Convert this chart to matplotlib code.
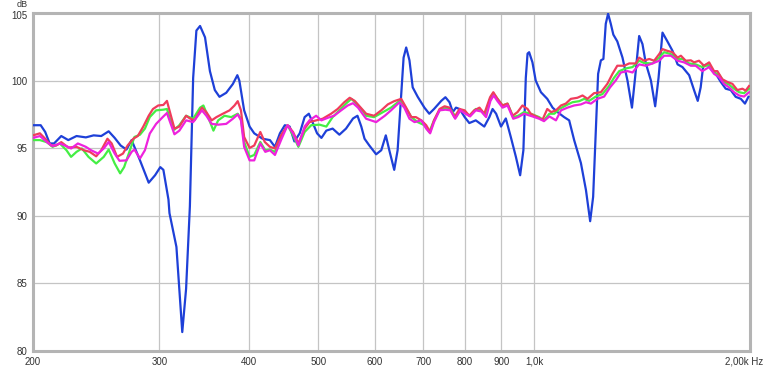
import numpy as np
import matplotlib.pyplot as plt
from matplotlib.transforms import ScaledTranslation

plt.rcParams['font.family'] = ['Liberation Sans', 'DejaVu Sans']

# frequency response traces (Hz, dB)
blue_f = [200, 205, 208, 211, 214, 219, 224, 230, 237, 243, 249, 255, 260, 265, 270, 274.5,
          282, 290, 296, 301, 304, 309, 310, 317, 323, 327, 331, 334.5, 338, 342, 347.5, 353,
          358.6, 364, 372, 380, 385.5, 388, 394, 401, 407, 418, 428, 435, 442, 449, 456, 463,
          471, 478.5, 485, 491, 498, 505, 513, 523.5, 535, 546.5, 559, 567, 574, 580, 589,
          602, 612, 621, 628, 638, 645, 652.5, 657.5, 663, 670, 677, 688, 703, 714, 725, 742,
          752, 762, 770, 778, 787, 800, 812, 829, 852, 866, 875, 885, 899, 913, 928, 943, 956,
          966, 973.5, 979, 984, 994.5, 1005, 1022, 1043, 1061, 1078, 1101, 1119, 1137, 1162,
          1181, 1197, 1208.5, 1219, 1228, 1239, 1249, 1258.5, 1268, 1279, 1289.5, 1306, 1328,
          1349.5, 1369, 1383, 1401, 1416, 1431, 1455, 1475, 1491, 1510, 1534, 1559.5, 1585,
          1610, 1645, 1671, 1691, 1707, 1721, 1744, 1764, 1792, 1821, 1850, 1880, 1910, 1942,
          1968, 1990]
blue_db = [96.7, 96.7, 96.2, 95.35, 95.35, 95.9, 95.6, 95.9, 95.8, 95.95, 95.9, 96.25, 95.76,
           95.2, 94.9, 95.6, 94.1, 92.45, 93.0, 93.6, 93.4, 91.2, 90.2, 87.7, 81.4, 84.6, 90.7,
           100.2, 103.7, 104.04, 103.2, 100.7, 99.3, 98.8, 99.1, 99.75, 100.4, 100.0, 97.8,
           96.6, 96.1, 95.7, 95.6, 95.1, 96.1, 96.7, 96.6, 95.5, 96.1, 97.3, 97.55, 96.9, 96.1,
           95.76, 96.3, 96.45, 96.0, 96.45, 97.2, 97.4, 96.6, 95.7, 95.2, 94.55, 94.85, 95.95,
           94.85, 93.4, 94.85, 99.0, 101.7, 102.45, 101.5, 99.5, 98.8, 98.0, 97.55, 97.9, 98.5,
           98.77, 98.4, 97.67, 98.0, 97.9, 97.3, 96.86, 97.06, 96.6, 97.3, 97.9, 97.55, 96.6,
           97.2, 95.8, 94.36, 93.0, 94.85, 100.2, 102.0, 102.1, 101.35, 100.0, 99.14, 98.65,
           98.0, 97.67, 97.3, 97.06, 95.6, 93.9, 91.9, 89.6, 91.4, 96.3, 100.5, 101.5, 101.6,
           104.2, 104.95, 104.2, 103.4, 102.9, 101.7, 100.0, 98.0, 100.25, 103.3, 102.7, 101.3,
           100.0, 98.1, 100.2, 103.55, 102.9, 102.2, 101.2, 101.0, 100.4, 99.3, 98.5, 99.5,
           101.1, 101.2, 100.85, 100.5, 99.9, 99.4, 99.3, 98.8, 98.65, 98.3, 98.8]

green_f = [200, 204.5, 209, 213, 218, 222.7, 226, 230, 234, 239, 245, 251, 255, 260, 264.6,
           268, 273, 277, 282, 286.5, 291, 297, 304, 307.5, 310, 315, 320, 327, 334.5, 342,
           345.7, 351, 357, 362.5, 370, 378, 386, 390, 394, 401, 407, 415, 421.7, 428, 435,
           444.4, 453, 461, 469, 478.5, 488.7, 502, 513, 523.5, 535, 546.5, 556, 565, 577, 583,
           598, 615.5, 631.5, 649, 659, 674, 688, 703, 714, 725, 738, 754, 766, 778, 787, 800,
           812, 829, 843.6, 855, 868, 877, 889, 903.5, 918, 935, 950, 968, 989, 1016, 1032,
           1050, 1067, 1084, 1107, 1131, 1156, 1174.5, 1193, 1219, 1245, 1272, 1292, 1314,
           1342, 1371.5, 1401, 1423, 1462.5, 1494, 1518, 1551.5, 1585, 1610, 1645, 1680, 1716,
           1754, 1782, 1811, 1840, 1870, 1900, 1931, 1962, 1994]
green_db = [95.6, 95.6, 95.45, 95.1, 95.35, 94.85, 94.36, 94.73, 94.98, 94.36, 93.87, 94.36,
            94.9, 93.87, 93.14, 93.6, 94.85, 95.83, 96.0, 96.45, 97.3, 97.8, 97.85, 97.9, 97.3,
            96.37, 96.7, 97.4, 97.18, 98.0, 98.16, 97.3, 96.3, 97.06, 97.4, 97.3, 97.55, 97.18,
            95.46, 94.36, 94.5, 95.46, 94.85, 94.9, 94.73, 95.95, 96.7, 95.95, 95.1, 96.2, 96.7,
            96.74, 96.6, 97.3, 97.8, 98.3, 98.65, 98.3, 97.75, 97.4, 97.3, 97.67, 98.0, 98.5,
            98.16, 97.3, 96.93, 96.7, 96.2, 97.06, 97.8, 98.0, 97.8, 97.3, 97.8, 97.67, 97.4,
            97.9, 97.8, 97.4, 98.65, 99.07, 98.65, 98.16, 98.3, 97.3, 97.4, 97.67, 97.55, 97.3,
            97.06, 97.55, 97.55, 97.9, 98.16, 98.4, 98.48, 98.65, 98.5, 98.82, 99.0, 99.6,
            100.2, 100.7, 100.9, 101.0, 101.47, 101.3, 101.27, 101.7, 102.1, 101.96, 101.6,
            101.6, 101.27, 101.2, 101.0, 101.17, 100.6, 100.44, 99.9, 99.7, 99.4, 99.14, 99.07,
            99.4]

red_f = [200, 204.5, 208, 212, 215.5, 219, 224, 230, 235.5, 240, 245, 249, 254, 257.5, 262,
         267, 271, 276, 280, 285, 290, 294, 299, 304, 307.5, 310, 315, 320, 327, 331, 336, 344,
         349, 355, 360.5, 368, 376, 382, 386, 390, 394, 401, 407, 415, 421, 428, 435, 443.5,
         453, 461, 469, 478.5, 486, 496.5, 507, 521, 532, 543.5, 553, 562, 574, 583, 598, 612,
         625, 638, 652.5, 663, 674, 684, 696, 707, 716, 725, 738, 750, 762, 774, 787, 800, 812,
         825, 839, 852, 868, 877, 889, 903.5, 918, 933, 948, 963, 979, 989, 1010.5, 1027, 1043,
         1056, 1072.5, 1090, 1107, 1125, 1149, 1168, 1187, 1212, 1239, 1265, 1286, 1306, 1335,
         1357, 1386, 1401, 1423, 1447, 1470, 1494, 1510, 1534, 1559.5, 1585, 1602, 1627, 1654,
         1671, 1698, 1725, 1754, 1782, 1801, 1830, 1860, 1890, 1920.5, 1952, 1972, 1994]
red_db = [95.95, 96.1, 95.7, 95.2, 95.2, 95.45, 95.05, 95.1, 94.85, 94.73, 94.4, 94.85, 95.7,
          95.35, 94.36, 94.6, 95.2, 95.7, 95.9, 96.6, 97.4, 97.9, 98.16, 98.2, 98.5, 97.8,
          96.45, 96.6, 97.4, 97.2, 97.06, 98.0, 97.67, 97.06, 97.3, 97.55, 97.8, 98.16, 98.48,
          97.8, 95.83, 95.02, 95.2, 96.2, 95.46, 95.1, 94.98, 95.95, 96.7, 96.2, 95.35, 96.45,
          96.93, 97.06, 97.18, 97.55, 97.9, 98.4, 98.73, 98.5, 97.95, 97.55, 97.4, 97.8, 98.24,
          98.48, 98.65, 98.0, 97.3, 97.3, 97.06, 96.7, 96.2, 97.06, 97.9, 98.1, 98.0, 97.3,
          97.9, 97.8, 97.4, 97.8, 98.0, 97.55, 98.77, 99.14, 98.65, 98.16, 98.3, 97.4, 97.67,
          98.16, 97.9, 97.55, 97.3, 97.1, 97.9, 97.67, 97.8, 98.16, 98.3, 98.65, 98.73, 98.9,
          98.65, 99.07, 99.14, 99.76, 100.5, 101.1, 101.1, 101.27, 101.27, 101.7, 101.47,
          101.6, 101.47, 101.96, 102.33, 102.2, 102.1, 101.7, 101.84, 101.47, 101.5, 101.35,
          101.47, 101.1, 101.35, 100.7, 100.7, 100.1, 99.9, 99.76, 99.3, 99.4, 99.26, 99.6]

magenta_f = [200, 204.5, 209, 213, 218, 222.7, 226, 231, 237, 241, 246.5, 251, 255, 260, 264,
             270, 274.5, 277, 282, 286.5, 291, 297, 304, 307.5, 310, 315, 320, 327, 334.5, 344,
             349, 355, 362.5, 372, 380, 386, 390, 394, 401, 407, 415, 421.7, 428, 435, 444.4,
             453, 461, 469, 478.5, 486, 496.5, 505, 515.5, 526, 538, 549.5, 559, 568, 577, 583,
             602, 619, 631.5, 649, 659, 670, 681, 696, 707, 716, 725, 738, 752, 764, 776, 789,
             802, 814, 829, 843.6, 857, 869, 878, 889, 903.5, 918, 935, 950, 968, 994.5, 1016,
             1032, 1050, 1072.5, 1090, 1113, 1137, 1162, 1181, 1200, 1225, 1252, 1276, 1299,
             1321, 1349.5, 1371.5, 1401, 1431, 1462.5, 1494, 1518, 1551.5, 1585, 1618.5, 1654,
             1680, 1716, 1754, 1782, 1811, 1840, 1870, 1900, 1931, 1962, 1994]
magenta_db = [95.76, 95.9, 95.46, 95.15, 95.35, 95.15, 94.98, 95.35, 95.1, 94.85, 94.6, 94.98,
              95.46, 94.6, 94.07, 94.1, 94.73, 94.9, 94.24, 94.85, 96.08, 96.8, 97.35, 97.6,
              97.06, 96.03, 96.3, 97.06, 96.93, 97.8, 97.4, 96.8, 96.74, 96.8, 97.18, 97.5,
              97.06, 95.1, 94.1, 94.1, 95.35, 94.73, 94.85, 94.5, 95.7, 96.7, 96.1, 95.2, 96.6,
              97.06, 97.4, 97.06, 97.25, 97.4, 97.8, 98.16, 98.33, 98.0, 97.5, 97.18, 96.93,
              97.4, 97.8, 98.4, 98.0, 97.18, 96.93, 97.06, 96.45, 96.1, 96.93, 97.8, 97.85,
              97.8, 97.18, 97.8, 97.55, 97.35, 97.8, 97.72, 97.3, 98.5, 98.9, 98.48, 98.0,
              98.16, 97.18, 97.3, 97.55, 97.35, 97.18, 97.0, 97.35, 97.06, 97.8, 98.0, 98.16,
              98.24, 98.4, 98.3, 98.65, 98.82, 99.5, 100.0, 100.6, 100.7, 100.6, 101.2, 101.1,
              101.27, 101.47, 101.84, 101.84, 101.47, 101.35, 101.1, 101.1, 100.7, 101.0, 100.5,
              100.25, 99.76, 99.5, 99.14, 98.9, 98.82, 99.14]

xticks = [200, 300, 400, 500, 600, 700, 800, 900, 1000, 2000]
xtick_labels = ['200', '300', '400', '500', '600', '700', '800', '900', '1,0k', '2,00k Hz']
yticks = [80, 85, 90, 95, 100, 105]

fig = plt.figure(figsize=(7.66, 3.67), dpi=100)
ax = fig.add_axes([33 / 766, 16 / 367, 717 / 766, 338 / 367])

ax.plot(blue_f, blue_db, color='#1e40d8', lw=1.6, zorder=3)
ax.plot(green_f, green_db, color='#44ee44', lw=1.6, zorder=4)
ax.plot(red_f, red_db, color='#f03c5c', lw=1.6, zorder=5)
ax.plot(magenta_f, magenta_db, color='#ee22dd', lw=1.6, zorder=6)

ax.set_xscale('log')
ax.set_xlim(200, 2000)
ax.set_ylim(80, 105)
ax.set_xticks(xticks)
ax.set_xticklabels(xtick_labels)
ax.xaxis.set_minor_locator(plt.NullLocator())
ax.set_yticks(yticks)
ax.tick_params(length=0, labelsize=7, labelcolor='#333333')
ax.tick_params(axis='y', pad=4)
ax.tick_params(axis='x', pad=4)
ax.grid(True, color='#c4c4c4', lw=0.9)
ax.set_axisbelow(True)
for s in ax.spines.values():
    s.set_color('#b4b4b4')
    s.set_linewidth(2.2)

# last tick label sits shifted left so it stays in the figure
lbl = ax.get_xticklabels()[-1]
lbl.set_transform(lbl.get_transform() + ScaledTranslation(-4 / 72, 0, fig.dpi_scale_trans))

# the 105 label drops a touch so "dB" fits above it
lbl105 = ax.get_yticklabels()[-1]
lbl105.set_transform(lbl105.get_transform() + ScaledTranslation(0, -1.5 / 72, fig.dpi_scale_trans))

fig.text(22 / 766, 1.0, 'dB', ha='center', va='top', fontsize=6.5, color='#333333')

fig.savefig('out.png', dpi=100)
